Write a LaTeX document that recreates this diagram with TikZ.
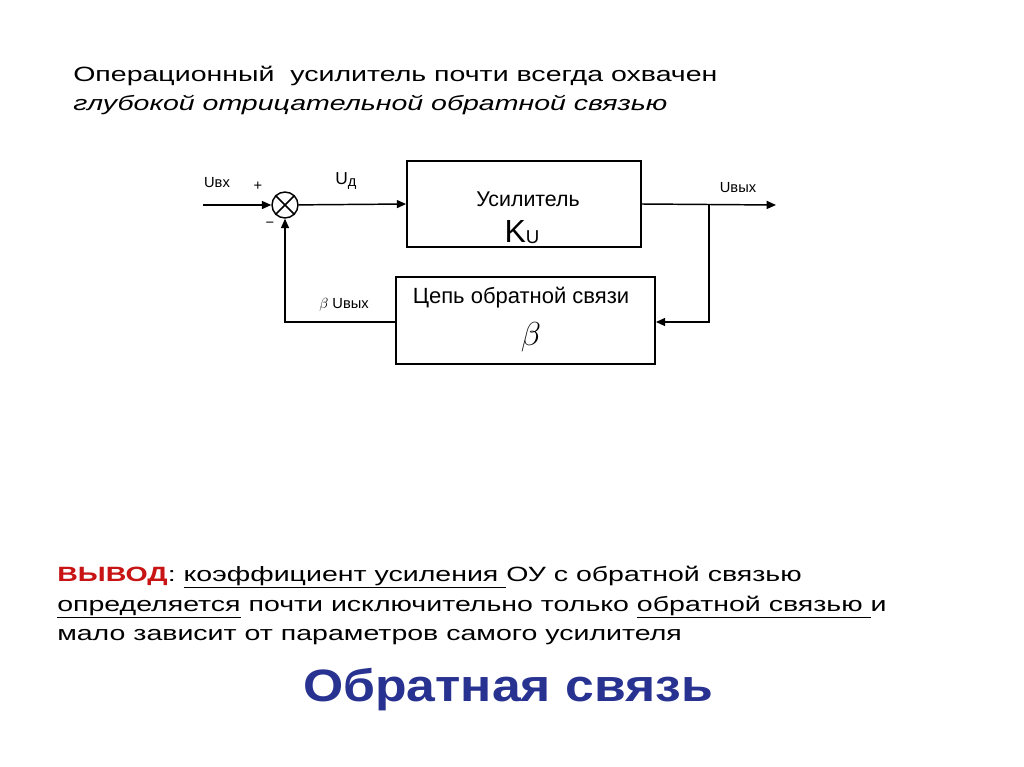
\documentclass[tikz,border=0pt]{standalone}
\usepackage{fontspec}
\setmainfont{Liberation Sans}
\newfontfamily\wide[FakeStretch=1.38]{Liberation Sans}
\newfontfamily\wideb[FakeStretch=1.14]{Liberation Sans}
\usetikzlibrary{arrows.meta}
\definecolor{titleblue}{RGB}{40,50,145}
\definecolor{outred}{RGB}{200,20,20}
\begin{document}
\begin{tikzpicture}[x=0.75pt,y=-0.75pt,
  blk/.style={draw,line width=1.3pt,inner sep=0},
  ln/.style={line width=1.1pt},
  arr/.style={ln,-{Triangle[length=7pt,width=6pt]}},
  lbl/.style={font=\fontsize{11}{13}\selectfont,inner sep=0},
  txt/.style={anchor=west,inner sep=0,font=\wide\fontsize{15.5}{18}\selectfont}]
\useasboundingbox[fill=white] (0,0) rectangle (1024,767);
\node[txt] (t1) at (73,76) {Операционный\ \ усилитель почти всегда охвачен};
\node[txt] (t2) at (73,105) {\itshape глубокой отрицательной обратной связью};
\node[blk,minimum width=234*0.75pt,minimum height=86*0.75pt] (amp) at (524,204) {};
\node[lbl,font=\fontsize{16}{18}\selectfont] (ampt) at (528,199) {Усилитель};
\node[lbl,font=\fontsize{24}{26}\selectfont] (ku) at (522,232) {K\raisebox{-1pt}{\fontsize{14}{15}\selectfont U}};
\node[blk,minimum width=259*0.75pt,minimum height=87*0.75pt] (fb) at (525.5,320.5) {};
\node[lbl,font=\fontsize{16.5}{18}\selectfont] (fbt) at (521,298) {Цепь обратной связи};
\node[lbl,font=\fontsize{24}{26}\selectfont\itshape] (beta) at (531,337) {$\beta$};
\node[draw,circle,ln,minimum size=26*0.75pt,inner sep=0] (sum) at (285,205) {};
\draw[ln] (sum.north west) -- (sum.south east) (sum.north east) -- (sum.south west);
\coordinate (in) at (203,205);
\coordinate (br) at (709,205);
\coordinate (out) at (776,205);
\coordinate (fbin) at (709,322);
\coordinate (fbout) at (285,322);
\draw[arr] (in) -- (sum);
\draw[arr] (sum) -- (amp.west);
\draw[arr] (amp.east) -- (out);
\draw[arr] (br) -- (fbin) -- (fb.east|-fbin);
\draw[arr] (fb.west|-fbout) -- (fbout) -- (sum.south);
\node[lbl] (uin) at (217,183) {Uвх};
\node[lbl] (plus) at (258,186) {+};
\node[lbl] (minus) at (270,225) {\textminus};
\node[lbl,font=\fontsize{13}{15}\selectfont] (ud) at (346,181) {U\raisebox{-1pt}{\fontsize{11}{13}\selectfont д}};
\node[lbl] (uout) at (738,188) {Uвых};
\node[lbl] (buout) at (344,305) {$\beta$ Uвых};
\node[txt] (c1) at (57,577) {\textcolor{outred}{\bfseries ВЫВОД}: \underline{коэффициент усиления }ОУ с обратной связью};
\node[txt] (c2) at (57,607) {\underline{определяется} почти исключительно только \underline{обратной связью }и};
\node[txt] (c3) at (57,637) {мало зависит от параметров самого усилителя};
\node[inner sep=0,text=titleblue,font=\wideb\fontsize{34}{38}\selectfont\bfseries] (title) at (508,690) {Обратная связь};
\end{tikzpicture}
\end{document}
